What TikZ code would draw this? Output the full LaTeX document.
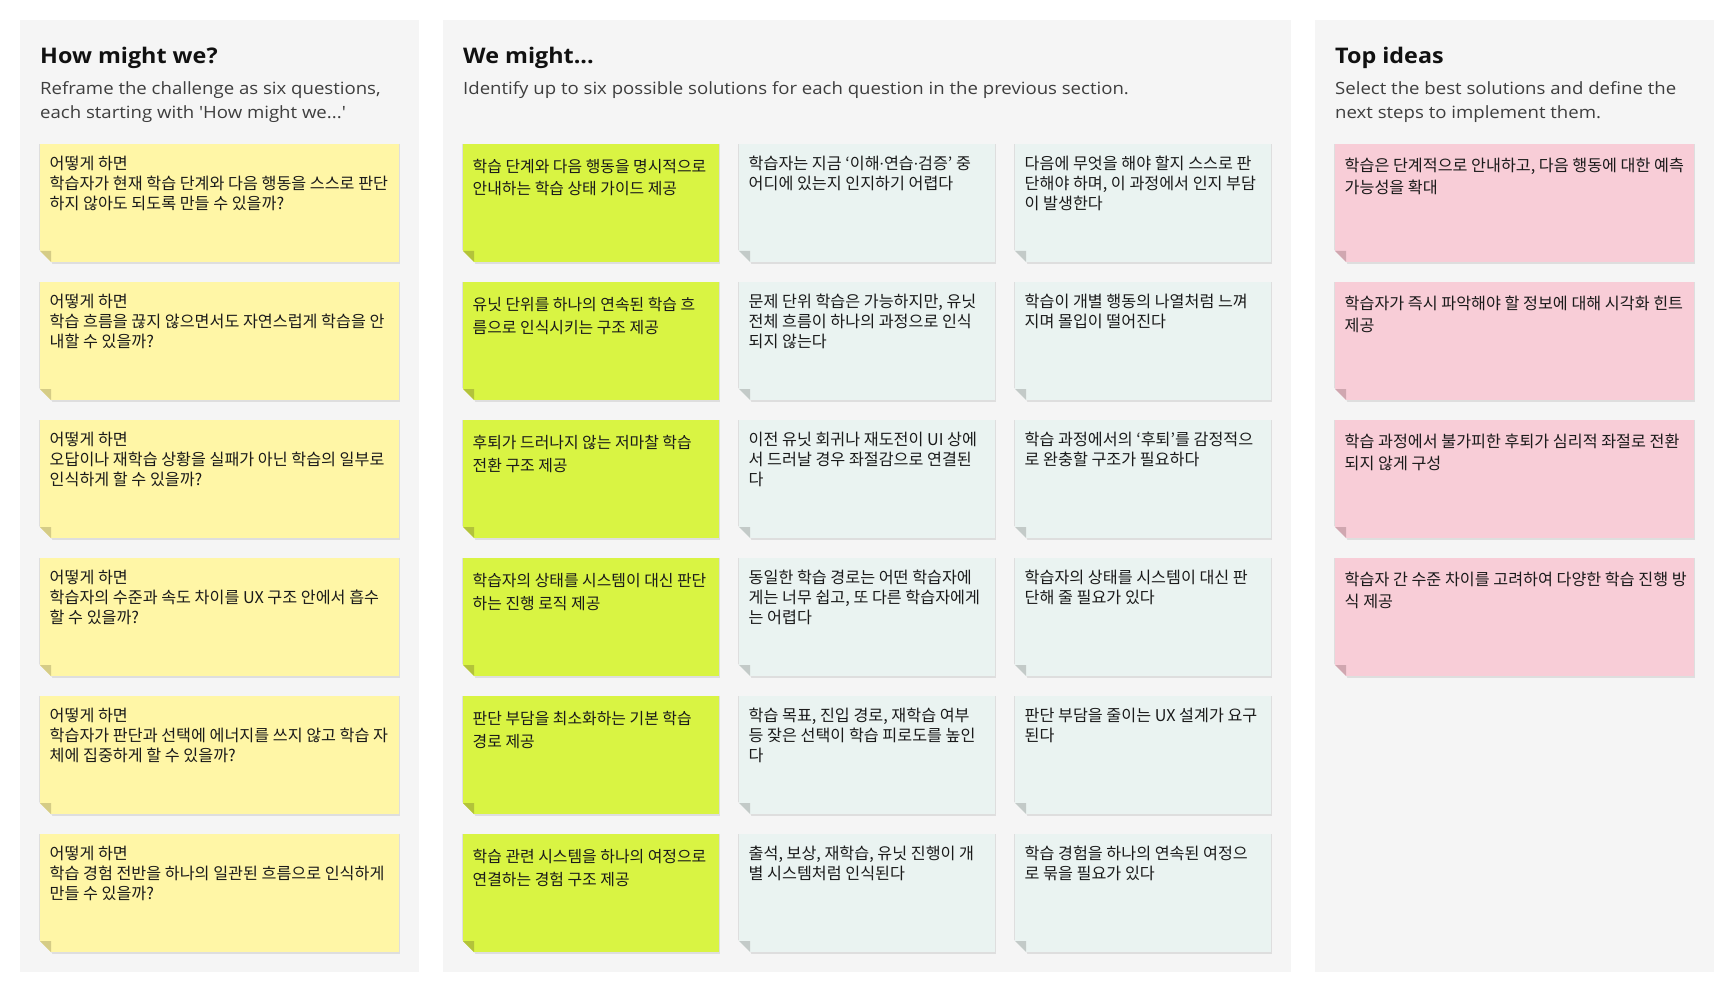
\documentclass[tikz,border=0pt]{standalone}
\usepackage{fontspec}
\setmainfont{Open Sans}
\newfontfamily\kr{Noto Sans CJK KR}
\newfontfamily\hd{Open Sans}[FakeStretch=1.085]
\newfontfamily\subf{Open Sans}[FakeStretch=1.1]
\definecolor{panelbg}{HTML}{F5F5F5}
\definecolor{yel}{HTML}{FFF6A6}
\definecolor{yelfold}{HTML}{D5CC86}
\definecolor{grn}{HTML}{D9F443}
\definecolor{grnfold}{HTML}{B3C33A}
\definecolor{mnt}{HTML}{EAF3F1}
\definecolor{mntfold}{HTML}{C3CAC8}
\definecolor{pnk}{HTML}{F8CDD7}
\definecolor{pnkfold}{HTML}{D0A7B0}
\definecolor{ttlc}{HTML}{111111}
\definecolor{subc}{HTML}{3E3E3E}
\definecolor{txtc}{HTML}{1A1A1A}
\tikzset{
  panel/.style={fill=panelbg, draw=none, anchor=north west, inner sep=0pt, minimum height=952pt},
  notebox/.style={anchor=north west, inner sep=0pt, minimum height=118pt, draw=none},
  ttl/.style={font={\hd\bfseries\fontsize{21.5}{25}\selectfont}, text=ttlc, anchor=base west, inner sep=0pt},
  subt/.style={font={\subf\fontsize{16.9}{24}\selectfont}, text=subc, anchor=base west, inner sep=0pt},
  qtext/.style={font={\kr\fontsize{16.2}{19.7}\selectfont}, text=txtc, anchor=base west, inner sep=0pt},
  stext/.style={font={\kr\fontsize{15.9}{22.4}\selectfont}, text=txtc, anchor=base west, inner sep=0pt},
  ptext/.style={font={\kr\fontsize{16.2}{21.8}\selectfont}, text=txtc, anchor=base west, inner sep=0pt},
}
\newcommand\stickynote[8]{%
  \fill[black,opacity=.09] (#2-0.7,#3-0.4) rectangle (#2+#4+0.7,#3+119.6);
  \node[notebox, fill=#5, minimum width=#4] (#1) at (#2,#3) {};
  \fill[panelbg] (#2-1,#3+106) -- (#2+12,#3+119) -- (#2+12,#3+120) -- (#2-1,#3+120) -- cycle;
  \fill[#5fold] (#2,#3+107) -- (#2+11,#3+107) -- (#2+11,#3+118) -- cycle;
  \node[#6] (#1t) at (#2+9.5,#3+#7) {\vtop{#8}};
}
\newcommand\mdot{{\hd\fontsize{15}{15}\selectfont ·}}
\begin{document}
\begin{tikzpicture}[x=1pt,y=-1pt]
\fill[white] (0,0) rectangle (1734,992);
\useasboundingbox (0,0) rectangle (1734,992);
% panels
\node[panel, minimum width=399pt] (p1) at (20,20) {};
\node[panel, minimum width=848pt] (p2) at (443,20) {};
\node[panel, minimum width=399pt] (p3) at (1315,20) {};
% headings
\node[ttl] (h1) at (40,63.3) {How might we?};
\node[ttl] (h2) at (463,63.3) {We might...};
\node[ttl] (h3) at (1335,63.3) {Top ideas};
\node[subt] (s1) at (40,94.6) {\vtop{\hbox{Reframe the challenge as six questions,}\hbox{each starting with 'How might we...'}}};
\node[subt] (s2) at (463,94.6) {Identify up to six possible solutions for each question in the previous section.};
\node[subt] (s3) at (1335,94.6) {\vtop{\hbox{Select the best solutions and define the}\hbox{next steps to implement them.}}};
% column 1: questions
\stickynote{q1}{40}{144}{359}{yel}{qtext}{25.8}{\hbox{어떻게 하면}\hbox{학습자가 현재 학습 단계와 다음 행동을 스스로 판단}\hbox{하지 않아도 되도록 만들 수 있을까?}}
\stickynote{q2}{40}{282}{359}{yel}{qtext}{25.8}{\hbox{어떻게 하면}\hbox{학습 흐름을 끊지 않으면서도 자연스럽게 학습을 안}\hbox{내할 수 있을까?}}
\stickynote{q3}{40}{420}{359}{yel}{qtext}{25.8}{\hbox{어떻게 하면}\hbox{오답이나 재학습 상황을 실패가 아닌 학습의 일부로}\hbox{인식하게 할 수 있을까?}}
\stickynote{q4}{40}{558}{359}{yel}{qtext}{25.8}{\hbox{어떻게 하면}\hbox{학습자의 수준과 속도 차이를 UX 구조 안에서 흡수}\hbox{할 수 있을까?}}
\stickynote{q5}{40}{696}{359}{yel}{qtext}{25.8}{\hbox{어떻게 하면}\hbox{학습자가 판단과 선택에 에너지를 쓰지 않고 학습 자}\hbox{체에 집중하게 할 수 있을까?}}
\stickynote{q6}{40}{834}{359}{yel}{qtext}{25.8}{\hbox{어떻게 하면}\hbox{학습 경험 전반을 하나의 일관된 흐름으로 인식하게}\hbox{만들 수 있을까?}}
% column 2: solutions
\stickynote{a1}{463}{144}{256}{grn}{stext}{28.6}{\hbox{학습 단계와 다음 행동을 명시적으로}\hbox{안내하는 학습 상태 가이드 제공}}
\stickynote{b1}{739}{144}{256}{mnt}{qtext}{25.8}{\hbox{학습자는 지금 ‘이해\mdot 연습\mdot 검증’ 중}\hbox{어디에 있는지 인지하기 어렵다}}
\stickynote{c1}{1015}{144}{256}{mnt}{qtext}{25.8}{\hbox{다음에 무엇을 해야 할지 스스로 판}\hbox{단해야 하며, 이 과정에서 인지 부담}\hbox{이 발생한다}}
\stickynote{a2}{463}{282}{256}{grn}{stext}{28.6}{\hbox{유닛 단위를 하나의 연속된 학습 흐}\hbox{름으로 인식시키는 구조 제공}}
\stickynote{b2}{739}{282}{256}{mnt}{qtext}{25.8}{\hbox{문제 단위 학습은 가능하지만, 유닛}\hbox{전체 흐름이 하나의 과정으로 인식}\hbox{되지 않는다}}
\stickynote{c2}{1015}{282}{256}{mnt}{qtext}{25.8}{\hbox{학습이 개별 행동의 나열처럼 느껴}\hbox{지며 몰입이 떨어진다}}
\stickynote{a3}{463}{420}{256}{grn}{stext}{28.6}{\hbox{후퇴가 드러나지 않는 저마찰 학습}\hbox{전환 구조 제공}}
\stickynote{b3}{739}{420}{256}{mnt}{qtext}{25.8}{\hbox{이전 유닛 회귀나 재도전이 UI 상에}\hbox{서 드러날 경우 좌절감으로 연결된}\hbox{다}}
\stickynote{c3}{1015}{420}{256}{mnt}{qtext}{25.8}{\hbox{학습 과정에서의 ‘후퇴’를 감정적으}\hbox{로 완충할 구조가 필요하다}}
\stickynote{a4}{463}{558}{256}{grn}{stext}{28.6}{\hbox{학습자의 상태를 시스템이 대신 판단}\hbox{하는 진행 로직 제공}}
\stickynote{b4}{739}{558}{256}{mnt}{qtext}{25.8}{\hbox{동일한 학습 경로는 어떤 학습자에}\hbox{게는 너무 쉽고, 또 다른 학습자에게}\hbox{는 어렵다}}
\stickynote{c4}{1015}{558}{256}{mnt}{qtext}{25.8}{\hbox{학습자의 상태를 시스템이 대신 판}\hbox{단해 줄 필요가 있다}}
\stickynote{a5}{463}{696}{256}{grn}{stext}{28.6}{\hbox{판단 부담을 최소화하는 기본 학습}\hbox{경로 제공}}
\stickynote{b5}{739}{696}{256}{mnt}{qtext}{25.8}{\hbox{학습 목표, 진입 경로, 재학습 여부}\hbox{등 잦은 선택이 학습 피로도를 높인}\hbox{다}}
\stickynote{c5}{1015}{696}{256}{mnt}{qtext}{25.8}{\hbox{판단 부담을 줄이는 UX 설계가 요구}\hbox{된다}}
\stickynote{a6}{463}{834}{256}{grn}{stext}{28.6}{\hbox{학습 관련 시스템을 하나의 여정으로}\hbox{연결하는 경험 구조 제공}}
\stickynote{b6}{739}{834}{256}{mnt}{qtext}{25.8}{\hbox{출석, 보상, 재학습, 유닛 진행이 개}\hbox{별 시스템처럼 인식된다}}
\stickynote{c6}{1015}{834}{256}{mnt}{qtext}{25.8}{\hbox{학습 경험을 하나의 연속된 여정으}\hbox{로 묶을 필요가 있다}}
% column 3: top ideas
\stickynote{t1}{1335}{144}{359}{pnk}{ptext}{27.5}{\hbox{학습은 단계적으로 안내하고, 다음 행동에 대한 예측}\hbox{가능성을 확대}}
\stickynote{t2}{1335}{282}{359}{pnk}{ptext}{27.5}{\hbox{학습자가 즉시 파악해야 할 정보에 대해 시각화 힌트}\hbox{제공}}
\stickynote{t3}{1335}{420}{359}{pnk}{ptext}{27.5}{\hbox{학습 과정에서 불가피한 후퇴가 심리적 좌절로 전환}\hbox{되지 않게 구성}}
\stickynote{t4}{1335}{558}{359}{pnk}{ptext}{27.5}{\hbox{학습자 간 수준 차이를 고려하여 다양한 학습 진행 방}\hbox{식 제공}}
\end{tikzpicture}
\end{document}
